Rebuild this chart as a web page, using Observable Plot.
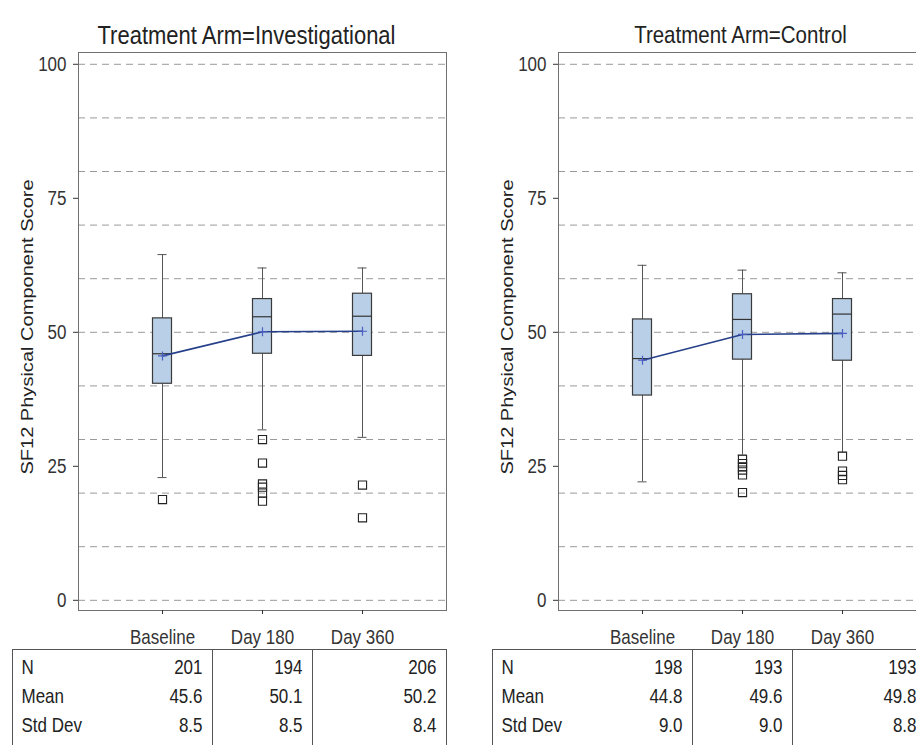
<!DOCTYPE html>
<html><head><meta charset="utf-8">
<script src="https://cdn.jsdelivr.net/npm/d3@7"></script>
<script src="https://cdn.jsdelivr.net/npm/@observablehq/plot@0.6"></script>
<style>
html,body{margin:0;padding:0;background:#fff;overflow:hidden;}
#wrap{position:relative;width:916px;height:745px;overflow:hidden;background:#fff;}
#wrap svg{position:absolute;top:0;}
</style></head><body><div id="wrap"></div>
<script>
const visits = ["Baseline", "Day 180", "Day 360"];
const yTicks = [0, 25, 50, 75, 100];
const gridValues = [0, 10, 20, 30, 40, 50, 60, 70, 80, 90, 100];
const yLabel = "SF12 Physical Component Score";
const rowLabels = ["N", "Mean", "Std Dev"];

// Treatment Arm = Investigational
const invWhiskerLow = [22.9, 31.8, 30.4];
const invQ1 = [40.4, 46.0, 45.6];
const invMedian = [46.0, 52.9, 53.0];
const invQ3 = [52.6, 56.2, 57.2];
const invWhiskerHigh = [64.5, 62.0, 62.0];
const invMean = [45.6, 50.1, 50.2];
const invN = [201, 194, 206];
const invStd = [8.5, 8.5, 8.4];
const invOutliers = [[18.8], [30.0, 25.6, 21.7, 21.1, 20.0, 18.5], [21.5, 15.4]];

// Treatment Arm = Control
const ctlWhiskerLow = [22.1, 27.1, 27.6];
const ctlQ1 = [38.2, 44.9, 44.7];
const ctlMedian = [45.1, 52.4, 53.4];
const ctlQ3 = [52.4, 57.1, 56.2];
const ctlWhiskerHigh = [62.5, 61.6, 61.1];
const ctlMean = [44.8, 49.6, 49.8];
const ctlN = [198, 193, 193];
const ctlStd = [9.0, 9.0, 8.8];
const ctlOutliers = [[], [26.3, 25.5, 24.9, 24.3, 23.4, 20.1], [26.9, 24.1, 23.3, 22.5]];

const STRETCH = 1.18;
const FONT = "'Liberation Sans', Arial, Helvetica, sans-serif";

function panel(arm, s, titleDx, titleSize) {
  const rows = visits.map((visit, i) => ({
    visit, lo: s.lo[i], q1: s.q1[i], median: s.median[i], q3: s.q3[i], hi: s.hi[i],
    mean: s.mean[i], n: String(s.n[i]), meanTxt: s.mean[i].toFixed(1), stdTxt: s.std[i].toFixed(1)
  }));
  const outl = visits.flatMap((visit, i) => s.out[i].map(y => ({visit, y})));
  const tableFields = ["n", "meanTxt", "stdTxt"];
  const rowDy = [63.5, 92.5, 121];
  const tableMarks = [];
  tableFields.forEach((f, k) => {
    tableMarks.push(Plot.text(rows.slice(0, 2), {x: "visit", text: f, frameAnchor: "bottom", dy: rowDy[k], dx: 40, textAnchor: "end", fontSize: 17, fill: "#222"}));
    tableMarks.push(Plot.text(rows.slice(2), {x: "visit", text: f, frameAnchor: "bottom", dy: rowDy[k], dx: 74, textAnchor: "end", fontSize: 17, fill: "#222"}));
    tableMarks.push(Plot.text([rowLabels[k]], {text: d => d, frameAnchor: "bottom-left", dx: -57, dy: rowDy[k], textAnchor: "start", fontSize: 17, fill: "#222"}));
  });

  const svg = Plot.plot({
    width: 460, height: 745,
    marginTop: 52, marginBottom: 135, marginLeft: 78, marginRight: 14,
    style: {fontFamily: FONT, fontSize: "17px", background: "transparent", overflow: "visible"},
    x: {type: "band", domain: visits, paddingInner: 0, paddingOuter: 0.34},
    y: {domain: [-1.9, 102.2]},
    marks: [
      Plot.ruleY(gridValues, {stroke: "#9a9a9a", strokeDasharray: "7,5"}),
      Plot.frame({stroke: "#707070"}),
      Plot.axisY(yTicks, {tickSize: 5, tickPadding: 7, fontSize: 17, label: null, color: "#333"}),
      Plot.axisX({tickSize: 4, tickPadding: 15, fontSize: 17, label: null, color: "#333"}),
      Plot.text([yLabel], {text: d => d, frameAnchor: "left", textAnchor: "middle", dx: -51, dy: -4.5, rotate: -90, fontSize: 17, fill: "#222"}),
      Plot.text([`Treatment Arm=${arm}`], {text: d => d, frameAnchor: "top", textAnchor: "middle", dy: -27, dx: titleDx, fontSize: titleSize, fill: "#222"}),
      // whiskers
      Plot.ruleX(rows, {x: "visit", y1: "q1", y2: "lo", stroke: "#555"}),
      Plot.ruleX(rows, {x: "visit", y1: "q3", y2: "hi", stroke: "#555"}),
      Plot.tickY(rows, {x: "visit", y: "lo", insetLeft: 45.5, insetRight: 45.5, stroke: "#555"}),
      Plot.tickY(rows, {x: "visit", y: "hi", insetLeft: 45.5, insetRight: 45.5, stroke: "#555"}),
      // boxes
      Plot.barY(rows, {x: "visit", y1: "q1", y2: "q3", insetLeft: 40.5, insetRight: 40.5, fill: "#b9cfe7", stroke: "#3a3a3a", strokeWidth: 1.2}),
      Plot.tickY(rows, {x: "visit", y: "median", insetLeft: 40.5, insetRight: 40.5, stroke: "#333", strokeWidth: 1.2}),
      // mean line and markers
      Plot.line(rows, {x: "visit", y: "mean", stroke: "#27408b", strokeWidth: 1.6}),
      Plot.dot(rows, {x: "visit", y: "mean", symbol: "plus", r: 3, stroke: "#4a5fc1", strokeWidth: 1.2}),
      // outliers
      Plot.dot(outl, {x: "visit", y: "y", symbol: "square", r: 4.6, fill: "none", stroke: "#222", strokeWidth: 1.1}),
      // table
      Plot.frame({insetLeft: -66, insetTop: 597, insetBottom: -140, stroke: "#555"}),
      Plot.ruleX(visits.slice(1), {x: d => d, dx: -50, insetTop: 597, insetBottom: -140, stroke: "#555"}),
      ...tableMarks
    ]
  });

  // Stretch text vertically to match the reference rendering
  svg.querySelectorAll("text").forEach(t => {
    const tr = t.getAttribute("transform");
    if (tr) {
      t.setAttribute("transform", tr + (tr.includes("rotate") ? ` scale(${STRETCH},1)` : ` scale(1,${STRETCH})`));
    } else {
      const x = +t.getAttribute("x") || 0, y = +t.getAttribute("y") || 0;
      t.setAttribute("transform", `translate(${x},${y}) scale(1,${STRETCH}) translate(${-x},${-y})`);
    }
  });
  return svg;
}

const wrap = document.getElementById("wrap");
const left = panel("Investigational", {lo: invWhiskerLow, q1: invQ1, median: invMedian, q3: invQ3, hi: invWhiskerHigh, mean: invMean, n: invN, std: invStd, out: invOutliers}, -16, 22);
left.style.left = "0px";
wrap.appendChild(left);
const right = panel("Control", {lo: ctlWhiskerLow, q1: ctlQ1, median: ctlMedian, q3: ctlQ3, hi: ctlWhiskerHigh, mean: ctlMean, n: ctlN, std: ctlStd, out: ctlOutliers}, -2, 20.5);
right.style.left = "480px";
wrap.appendChild(right);
</script>
</body></html>
